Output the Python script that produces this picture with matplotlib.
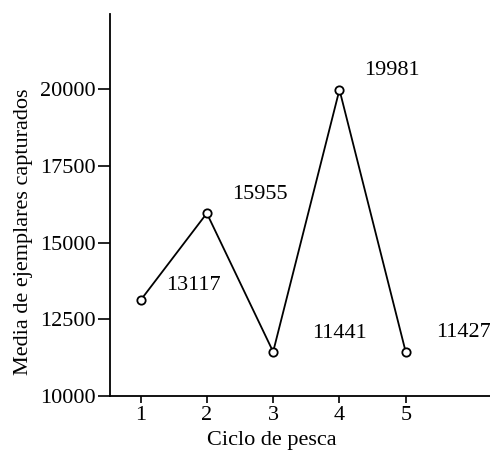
import matplotlib
matplotlib.use('Agg')
import matplotlib.pyplot as plt

# Datos
ciclos = [1, 2, 3, 4, 5]
media = [13117, 15955, 11441, 19981, 11427]
etiquetas = ['13117', '15955', '11441', '19981', '11427']
label_dx = [53, 53, 66, 52, 58]
label_dy = [15, 19, 18, 19, 20]
y_ticks = [10000, 12500, 15000, 17500, 20000]

plt.rcParams['font.family'] = ['Liberation Serif', 'DejaVu Serif']

fig = plt.figure(figsize=(4.9, 4.5), dpi=100)
ax = fig.add_axes([0.2245, 0.12, 0.7755, 0.849])

ax.plot(ciclos, media, color='black', linewidth=1.3, marker='o',
        markersize=6, markerfacecolor='white', markeredgewidth=1.3)

for x, y, t, dx, dy in zip(ciclos, media, etiquetas, label_dx, label_dy):
    ax.annotate(t, (x, y), xytext=(dx, dy), textcoords='offset pixels',
                ha='center', va='center', fontsize=16)

ax.set_xlim(0.54, 6.27)
ax.set_ylim(10000, 22450)
ax.set_xticks(ciclos)
ax.set_yticks(y_ticks)

ax.spines['top'].set_visible(False)
ax.spines['right'].set_visible(False)
ax.spines['left'].set_linewidth(1.3)
ax.spines['bottom'].set_linewidth(1.3)

ax.tick_params(axis='y', length=9, width=1.2, pad=1, labelsize=16)
ax.tick_params(axis='x', length=5, width=1.2, pad=2, labelsize=16)

ax.set_xlabel('Ciclo de pesca', fontsize=16)
ax.xaxis.set_label_coords(0.426, -0.092)
ax.set_ylabel('Media de ejemplares capturados', fontsize=16)
ax.yaxis.set_label_coords(-0.203, 0.43)

fig.savefig('out.png', dpi=100)
